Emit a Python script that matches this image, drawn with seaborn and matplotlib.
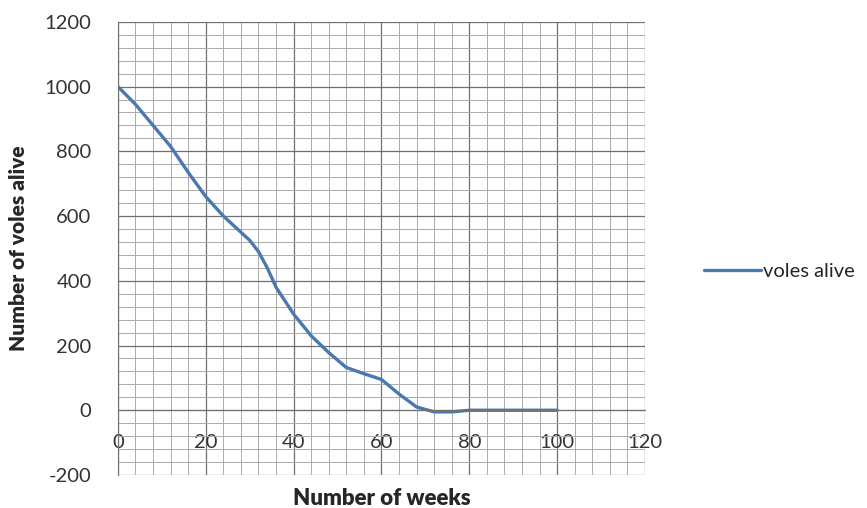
import pandas as pd
import matplotlib.pyplot as plt
import seaborn as sns
from matplotlib.ticker import MultipleLocator

# data
weeks = [0, 4, 8, 12, 16, 20, 24, 28, 30, 32, 34, 36, 40, 44, 48, 52, 56, 60, 64, 68, 72, 76, 80, 100]
voles = [1000, 945, 880, 815, 735, 660, 600, 550, 525, 490, 440, 380, 297, 230, 178, 132, 113, 95, 50, 10, -5, -5, 0, 0]

df = pd.DataFrame({'Number of weeks': weeks, 'voles alive': voles})

sns.set_style('white')
plt.rcParams['font.family'] = ['Lato', 'DejaVu Sans']
plt.rcParams['axes.unicode_minus'] = False

fig = plt.figure(figsize=(8.67, 5.08), dpi=100)
ax = fig.add_axes([0.136, 0.065, 0.608, 0.892])

sns.lineplot(data=df, x='Number of weeks', y='voles alive', ax=ax,
             color='#4a78b0', linewidth=2.4, label='voles alive')

ax.set_xlim(0, 120)
ax.set_ylim(-200, 1200)
ax.xaxis.set_major_locator(MultipleLocator(20))
ax.xaxis.set_minor_locator(MultipleLocator(4))
ax.yaxis.set_major_locator(MultipleLocator(200))
ax.yaxis.set_minor_locator(MultipleLocator(40))

# excel-style graph paper grid
ax.grid(which='major', color='#707070', linewidth=0.9)
ax.grid(which='minor', color='#ababab', linewidth=0.7)
ax.set_axisbelow(True)

# horizontal axis crosses at zero
ax.spines['bottom'].set_position(('data', 0))
ax.spines['bottom'].set_color('#707070')
ax.spines['left'].set_color('#707070')
ax.spines['top'].set_visible(False)
ax.spines['right'].set_visible(False)

ax.tick_params(axis='both', which='major', labelsize=14.5, colors='#333333',
               length=4, direction='out')
ax.tick_params(axis='both', which='minor', length=0)
ax.tick_params(axis='x', pad=13)
ax.tick_params(axis='y', pad=15)

ax.set_xlabel('Number of weeks', fontsize=16, fontweight='heavy')
ax.set_ylabel('Number of voles alive', fontsize=15, fontweight='heavy')
ax.xaxis.set_label_coords(0.5, -0.028)
ax.yaxis.set_label_coords(-0.17, 0.5)

ax.legend(loc='center left', bbox_to_anchor=(1.078, 0.45), frameon=False,
          fontsize=14.5, handlelength=2.8, handletextpad=0.1)

fig.savefig('out.png', dpi=100)
